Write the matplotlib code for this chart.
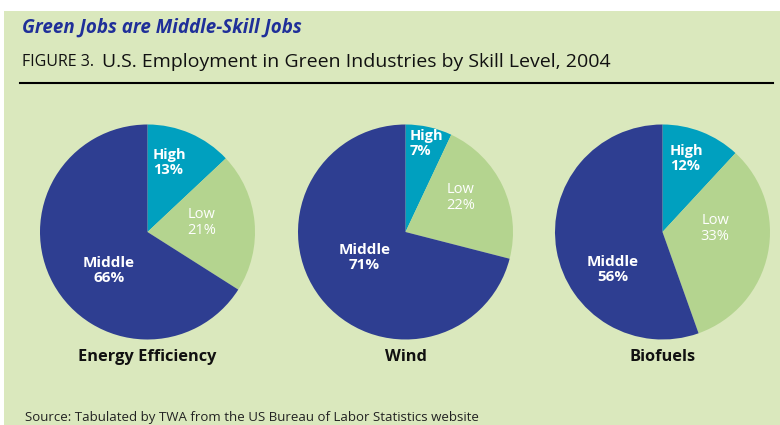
import matplotlib.pyplot as plt
import matplotlib.patches as mpatches
import numpy as np

plt.rcParams['font.family'] = ['Open Sans', 'DejaVu Sans']

# data
industries = ['Energy Efficiency', 'Wind', 'Biofuels']
skills = ['High', 'Low', 'Middle']
high = [13, 7, 12]
low = [21, 22, 33]
middle = [66, 71, 56]

colors = {'High': '#00a0bf', 'Low': '#b4d48f', 'Middle': '#2e3e91'}
bg = '#dae8bd'

# label offsets inside each pie (layout only, in pie radius units)
label_pos = [
    {'High': (0.05, 0.65), 'Low': (0.50, 0.09), 'Middle': (-0.36, -0.36)},
    {'High': (0.04, 0.82), 'Low': (0.51, 0.32), 'Middle': (-0.38, -0.24)},
    {'High': (0.07, 0.68), 'Low': (0.49, 0.03), 'Middle': (-0.46, -0.35)},
]

W, H = 780, 425
fig = plt.figure(figsize=(W / 100, H / 100), dpi=100)
fig.patch.set_facecolor('white')

# green panel
fig.patches.append(mpatches.Rectangle((4 / W, 0), 1 - 4 / W, 1 - 11 / H,
                                      transform=fig.transFigure,
                                      facecolor=bg, edgecolor='none', zorder=-10))

fig.text(22 / W, 1 - 28 / H, 'Green Jobs are Middle-Skill Jobs', fontsize=13.5,
         fontweight='bold', fontstyle='italic', color='#1f2f99', va='center')
fig.text(22 / W, 1 - 62 / H, 'FIGURE 3.', fontsize=11.5, color='#111111', va='center')
fig.text(102 / W, 1 - 62 / H, 'U.S. Employment in Green Industries by Skill Level, 2004',
         fontsize=14, color='#111111', va='center')
fig.add_artist(plt.Line2D([20 / W, 773 / W], [1 - 83 / H, 1 - 83 / H],
                          transform=fig.transFigure, color='black', lw=1.5))

centers_x = [147.5, 405.5, 662.5]
cy = 232
r = 107.5

for i, name in enumerate(industries):
    cx = centers_x[i]
    ax = fig.add_axes([(cx - r) / W, 1 - (cy + r) / H, 2 * r / W, 2 * r / H])
    vals = [high[i], low[i], middle[i]]
    ax.pie(vals, colors=[colors[s] for s in skills], startangle=90,
           counterclock=False, radius=1,
           wedgeprops=dict(edgecolor='none'))
    ax.set_xlim(-1, 1)
    ax.set_ylim(-1, 1)
    ax.set_aspect('equal')
    ax.axis('off')
    for s, v in zip(skills, vals):
        x, y = label_pos[i][s]
        ha = 'left' if s == 'High' else 'center'
        weight = 'normal' if s == 'Low' else 'bold'
        ax.text(x, y, f'{s}\n{v}%', ha=ha, va='center', color='white',
                fontsize=11 if s == 'Middle' else 10.5, fontweight=weight,
                linespacing=1.1)
    fig.text(cx / W, 1 - 357 / H, name, ha='center', va='center',
             fontsize=11.8, fontweight='bold', color='#111111')

fig.text(25 / W, 1 - 417 / H, 'Source: Tabulated by TWA from the US Bureau of Labor Statistics website',
         fontsize=9.5, color='#222222', va='center')

fig.savefig('out.png', dpi=100, facecolor=fig.get_facecolor())
